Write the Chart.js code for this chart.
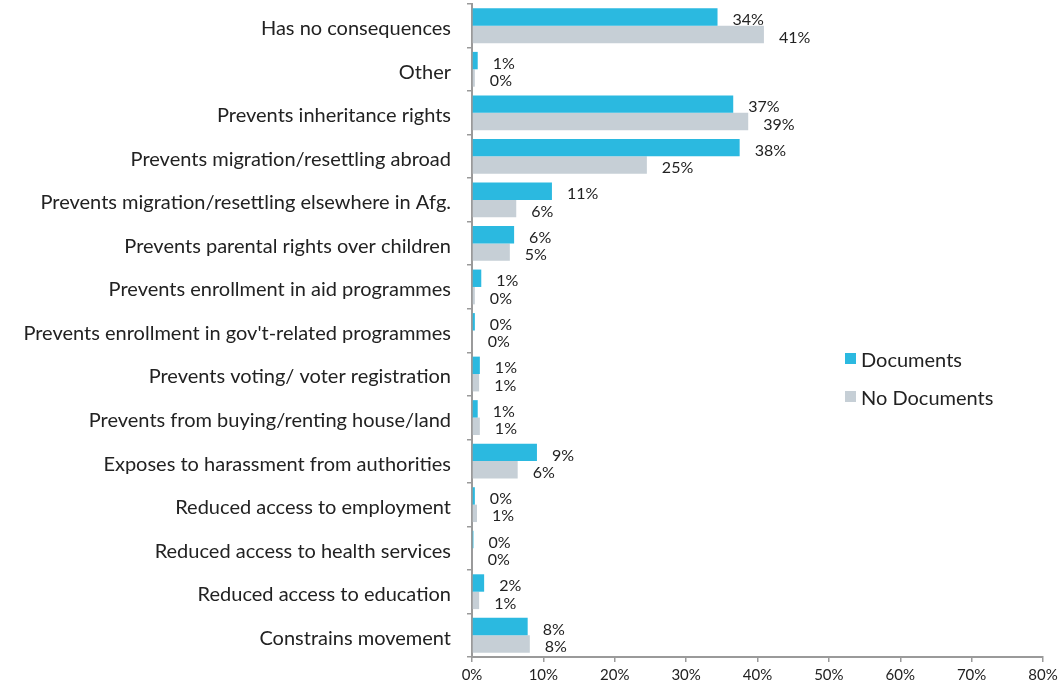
<!DOCTYPE html>
<html>
<head>
<meta charset="utf-8">
<script src="https://cdn.jsdelivr.net/npm/chart.js@4"></script>
<style>
    html, body { margin: 0; padding: 0; background: #fff; }
    #wrap { position: relative; width: 1059px; height: 691px; }
    #legend { position: absolute; left: 845px; top: 345px; font-family: Lato, "Open Sans", sans-serif; font-size: 20px; color: #222; }
    #legend div { height: 38px; line-height: 28px; }
    #legend span.box { display: inline-block; width: 11px; height: 11px; margin-right: 5px; vertical-align: 3px; }
</style>
</head>
<body>
<div id="wrap">
    <canvas id="barChart" width="1059" height="691"></canvas>
    <div id="legend">
        <div><span class="box" style="background:#2bb9e0"></span>Documents</div>
        <div><span class="box" style="background:#c6cfd6"></span>No Documents</div>
    </div>
</div>
<script>
const categories = [
    'Has no consequences',
    'Other',
    'Prevents inheritance rights',
    'Prevents migration/resettling abroad',
    'Prevents migration/resettling elsewhere in Afg.',
    'Prevents parental rights over children',
    'Prevents enrollment in aid programmes',
    "Prevents enrollment in gov't-related programmes",
    'Prevents voting/ voter registration',
    'Prevents from buying/renting house/land',
    'Exposes to harassment from authorities',
    'Reduced access to employment',
    'Reduced access to health services',
    'Reduced access to education',
    'Constrains movement'
];
const documents = [34.4, 0.8, 36.6, 37.5, 11.2, 5.9, 1.3, 0.4, 1.1, 0.8, 9.1, 0.4, 0.2, 1.7, 7.8];
const noDocuments = [40.9, 0.4, 38.7, 24.5, 6.2, 5.3, 0.4, 0.1, 1.0, 1.1, 6.4, 0.7, 0.1, 1.0, 8.1];
const documentsLabels = ['34%', '1%', '37%', '38%', '11%', '6%', '1%', '0%', '1%', '1%', '9%', '0%', '0%', '2%', '8%'];
const noDocumentsLabels = ['41%', '0%', '39%', '25%', '6%', '5%', '0%', '0%', '1%', '1%', '6%', '1%', '0%', '1%', '8%'];
const xTicks = [0, 10, 20, 30, 40, 50, 60, 70, 80];

document.addEventListener("DOMContentLoaded", function () {
    initBarChart();
});

function initBarChart() {
    // percentage text to the right of each bar
    const valueLabels = {
        id: 'valueLabels',
        afterDatasetsDraw(chart) {
            const ctx = chart.ctx;
            const labelSets = [documentsLabels, noDocumentsLabels];
            ctx.save();
            ctx.font = '16px Lato, "Open Sans", sans-serif';
            ctx.fillStyle = '#222';
            ctx.textAlign = 'left';
            ctx.textBaseline = 'middle';
            chart.data.datasets.forEach(function (ds, i) {
                chart.getDatasetMeta(i).data.forEach(function (bar, j) {
                    ctx.fillText(labelSets[i][j], bar.x + 15, bar.y + 3);
                });
            });
            ctx.restore();
        }
    };

    const data = {
        labels: categories,
        datasets: [{
            label: 'Documents',
            data: documents,
            backgroundColor: '#2bb9e0',
            categoryPercentage: 0.8,
            barPercentage: 1.0
        }, {
            label: 'No Documents',
            data: noDocuments,
            backgroundColor: '#c6cfd6',
            categoryPercentage: 0.8,
            barPercentage: 1.0
        }]
    };

    const options = {
        indexAxis: 'y',
        responsive: false,
        animation: false,
        layout: { padding: { top: 4, right: 16, left: 0, bottom: 0 } },
        plugins: {
            legend: { display: false },
            tooltip: { enabled: false }
        },
        scales: {
            x: {
                min: 0,
                max: 80,
                afterBuildTicks: function (axis) {
                    axis.ticks = xTicks.map(function (v) { return { value: v }; });
                },
                afterFit: function (axis) {
                    axis.height = 34;
                    axis.paddingLeft = 0;
                    axis.paddingRight = 0;
                },
                ticks: {
                    callback: function (v) { return v + '%'; },
                    font: { family: 'Lato, "Open Sans", sans-serif', size: 15 },
                    color: '#222',
                    padding: 4,
                    maxRotation: 0
                },
                grid: { drawOnChartArea: false, drawTicks: true, tickLength: 5, color: '#9a9a9a', lineWidth: 1.5 },
                border: { color: '#9a9a9a', width: 2 }
            },
            y: {
                afterFit: function (axis) {
                    axis.width = 472;
                    axis.paddingTop = 0;
                    axis.paddingBottom = 0;
                },
                ticks: {
                    font: { family: 'Lato, "Open Sans", sans-serif', size: 20 },
                    color: '#222',
                    padding: 16,
                    labelOffset: 3,
                    autoSkip: false
                },
                grid: { offset: true, drawOnChartArea: false, drawTicks: true, tickLength: 5, color: '#9a9a9a', lineWidth: 1.5 },
                border: { color: '#9a9a9a', width: 2 }
            }
        }
    };

    const ctx = document.getElementById('barChart').getContext('2d');
    new Chart(ctx, {
        type: 'bar',
        data: data,
        options: options,
        plugins: [valueLabels]
    });
}
</script>
</body>
</html>
